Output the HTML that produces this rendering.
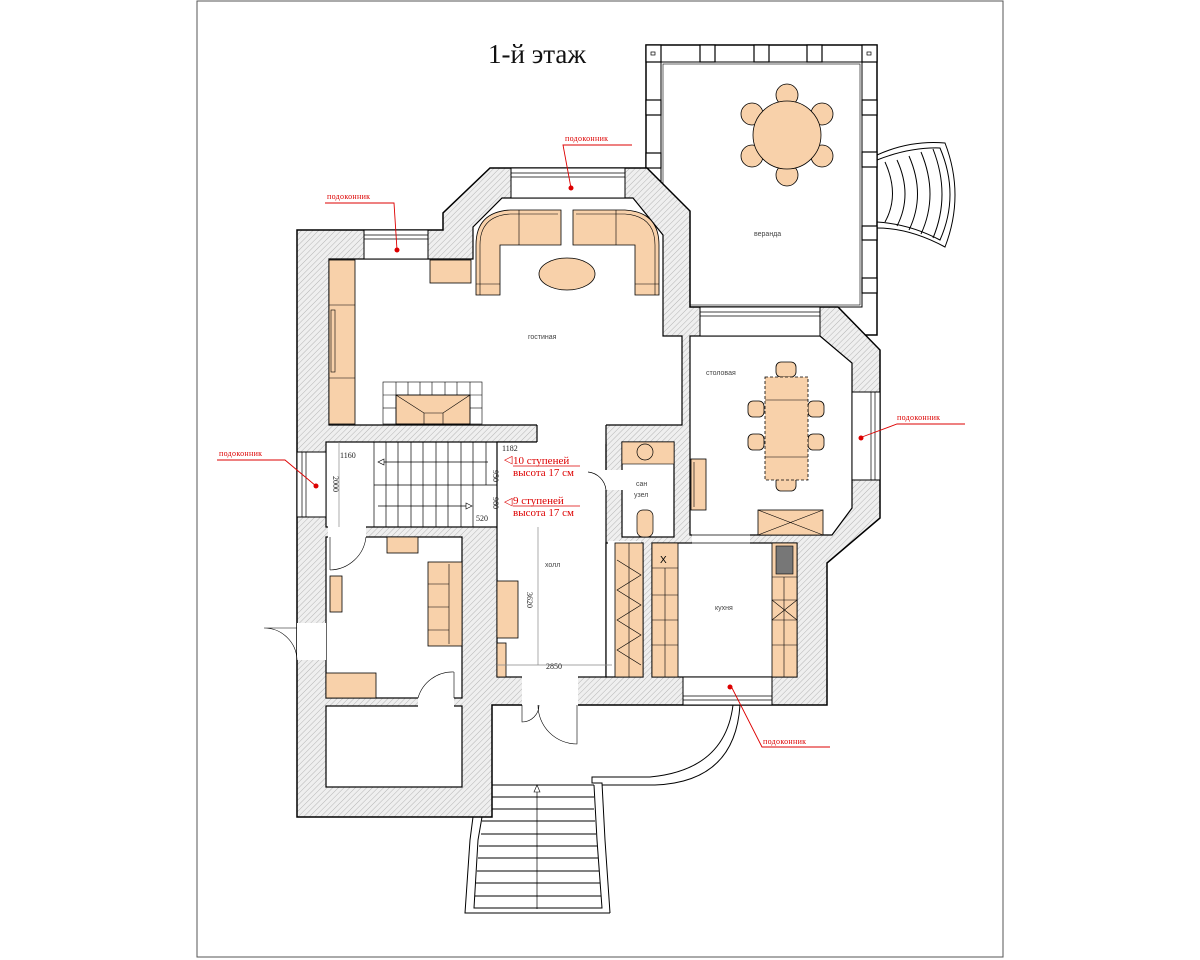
<!DOCTYPE html>
<html><head><meta charset="utf-8"><style>
html,body{margin:0;padding:0;background:#fff;}
svg{display:block;}
.r{font-family:"Liberation Serif",serif;fill:#d00;font-size:8px;letter-spacing:0.3px;}
.lb{font-family:"Liberation Sans",sans-serif;fill:#444;font-size:7px;}
.dm{font-family:"Liberation Serif",serif;fill:#222;font-size:8px;}
.rr{font-family:"Liberation Serif",serif;fill:#d00;font-size:11px;}
</style></head><body>
<svg width="1200" height="960" viewBox="0 0 1200 960" xmlns="http://www.w3.org/2000/svg">
<defs>
<pattern id="h" width="4" height="4" patternUnits="userSpaceOnUse" patternTransform="rotate(45)">
<rect width="4" height="4" fill="#efefef"/><line x1="0" y1="0" x2="0" y2="4" stroke="#b5b5b5" stroke-width="1"/></pattern>
</defs>
<rect x="197" y="1" width="806" height="956" fill="none" stroke="#555" stroke-width="1"/>
<text x="488" y="63" font-family="Liberation Serif,serif" font-size="27" fill="#111">1-й этаж</text>

<!-- veranda -->
<rect x="646" y="45" width="231" height="290" fill="#fff" stroke="#000" stroke-width="1.5"/>
<rect x="661" y="62" width="201" height="245" fill="#fff" stroke="#000" stroke-width="1"/>
<rect x="663" y="64" width="197" height="241" fill="none" stroke="#000" stroke-width="0.6"/>
<g fill="#fff" stroke="#000" stroke-width="1.2">
<rect x="646" y="45" width="15" height="17"/><rect x="700" y="45" width="15" height="17"/><rect x="754" y="45" width="15" height="17"/><rect x="807" y="45" width="15" height="17"/><rect x="862" y="45" width="15" height="17"/>
<rect x="646" y="100" width="15" height="15"/><rect x="646" y="153" width="15" height="15"/>
<rect x="862" y="100" width="15" height="15"/><rect x="862" y="152" width="15" height="15"/><rect x="862" y="226" width="15" height="14"/><rect x="862" y="278" width="15" height="15"/>
</g>
<rect x="651" y="52" width="4" height="3" fill="none" stroke="#000" stroke-width="0.7"/><rect x="867" y="52" width="4" height="3" fill="none" stroke="#000" stroke-width="0.7"/>
<!-- veranda steps -->
<g fill="none" stroke="#000" stroke-width="1">
<path d="M877 155 Q910 140 945 143 Q965 195 945 247 Q910 228 877 228"/>
<path d="M877 160 Q910 147 940 148 Q960 195 940 240 Q910 224 877 222"/>
<path d="M885 162 Q900 195 885 222"/><path d="M897 160 Q913 195 897 226"/><path d="M909 156 Q926 195 909 230"/><path d="M921 152 Q939 195 921 234"/><path d="M933 149 Q951 195 933 238"/>
</g>
<!-- round table -->
<g fill="#f8d1aa" stroke="#000" stroke-width="0.8">
<circle cx="787" cy="95" r="11"/><circle cx="787" cy="175" r="11"/><circle cx="752" cy="114" r="11"/><circle cx="822" cy="114" r="11"/><circle cx="752" cy="156" r="11"/><circle cx="822" cy="156" r="11"/>
<circle cx="787" cy="135" r="34"/>
</g>
<text class="lb" x="754" y="236">веранда</text>

<!-- main walls -->
<polygon points="297,230 443,230 443,213 490,168 647,168 690,211 690,307 838,307 880,350 880,518 827,563 827,705 492,705 492,817 297,817" fill="url(#h)" stroke="#000" stroke-width="1.5"/>

<!-- rooms (white) -->
<g fill="#fff" stroke="#000" stroke-width="1.2">
<polygon points="329,259 473,259 473,227 502,198 633,198 663,235 663,336 682,336 682,425 329,425"/>
<polygon points="690,336 820,336 852,363 852,508 832,535 690,535"/>
<rect x="326" y="442" width="211" height="85"/>
<rect x="497" y="442" width="109" height="235"/>
<rect x="537" y="424" width="69" height="20" stroke="none"/>
<rect x="606" y="543" width="37" height="134"/>
<rect x="652" y="543" width="145" height="134"/>
<rect x="326" y="537" width="136" height="161"/>
<rect x="326" y="706" width="136" height="81"/>
<rect x="622" y="442" width="52" height="95"/>
</g>
<!-- fixes: openings -->
<g fill="#fff" stroke="none">
<rect x="499" y="444" width="40" height="81"/>
<rect x="500" y="444" width="104" height="231"/>
<rect x="538" y="420" width="66" height="26"/>
<rect x="664" y="338" width="17" height="86"/>
<rect x="692" y="533" width="58" height="12"/>
<rect x="608" y="541" width="33" height="4"/>
<rect x="604" y="470" width="20" height="20"/>
<rect x="328" y="525" width="38" height="14"/>
<rect x="418" y="696" width="36" height="12"/>
<rect x="522" y="675" width="56" height="32"/>
</g>
<line x1="537" y1="425" x2="537" y2="442" stroke="#000" stroke-width="1.2"/>
<line x1="606" y1="425" x2="606" y2="470" stroke="#000" stroke-width="1.2"/>
<line x1="682" y1="336" x2="682" y2="424" stroke="#000" stroke-width="0.8"/>
<line x1="690" y1="336" x2="690" y2="424" stroke="#000" stroke-width="0.8"/>
<line x1="690" y1="535" x2="751" y2="535" stroke="#000" stroke-width="0.8"/><line x1="690" y1="543" x2="751" y2="543" stroke="#000" stroke-width="0.8"/>

<!-- windows -->
<g fill="#fff" stroke="#000" stroke-width="1">
<rect x="364" y="230" width="64" height="29"/>
<rect x="511" y="168" width="114" height="30"/>
<rect x="700" y="307" width="120" height="29"/>
<rect x="852" y="392" width="28" height="88"/>
<rect x="683" y="677" width="89" height="28"/>
<rect x="297" y="452" width="29" height="65"/>
<rect x="297" y="623" width="29" height="37" stroke="none"/>
</g>
<g stroke="#000" stroke-width="0.7">
<line x1="364" y1="235" x2="428" y2="235"/><line x1="364" y1="239" x2="428" y2="239"/>
<line x1="511" y1="173" x2="625" y2="173"/><line x1="511" y1="177" x2="625" y2="177"/>
<line x1="700" y1="312" x2="820" y2="312"/><line x1="700" y1="316" x2="820" y2="316"/>
<line x1="875" y1="392" x2="875" y2="480"/><line x1="871" y1="392" x2="871" y2="480"/>
<line x1="683" y1="700" x2="772" y2="700"/><line x1="683" y1="696" x2="772" y2="696"/>
<line x1="302" y1="452" x2="302" y2="517"/><line x1="306" y1="452" x2="306" y2="517"/>
</g>

<!-- living furniture -->
<g fill="#f8d1aa" stroke="#000" stroke-width="0.8">
<rect x="329" y="260" width="26" height="164"/>
<rect x="430" y="260" width="41" height="23"/>
<path d="M476 295 L476 245 Q476 212 510 210 L561 210 L561 245 L500 245 L500 295 Z"/>
<path d="M659 295 L659 245 Q659 212 625 210 L573 210 L573 245 L635 245 L635 295 Z"/>
<ellipse cx="567" cy="274" rx="28" ry="16"/>
<rect x="396" y="395" width="74" height="29"/>
</g>
<g fill="none" stroke="#000" stroke-width="0.6">
<line x1="329" y1="305" x2="355" y2="305"/><line x1="329" y1="378" x2="355" y2="378"/>
<rect x="331" y="310" width="4" height="62"/>
<path d="M480 295 L480 245 Q480 216 510 214 L558 214"/><path d="M655 295 L655 245 Q655 216 625 214 L576 214"/>
<line x1="476" y1="284" x2="500" y2="284"/><line x1="635" y1="284" x2="659" y2="284"/>
<line x1="519" y1="210" x2="519" y2="245"/><line x1="616" y1="210" x2="616" y2="245"/>
<rect x="383" y="382" width="99" height="42"/>
<line x1="383" y1="395" x2="482" y2="395"/><line x1="396" y1="382" x2="396" y2="424"/><line x1="470" y1="382" x2="470" y2="424"/>
<line x1="408" y1="382" x2="408" y2="395"/><line x1="420" y1="382" x2="420" y2="395"/><line x1="432" y1="382" x2="432" y2="395"/><line x1="445" y1="382" x2="445" y2="395"/><line x1="457" y1="382" x2="457" y2="395"/>
<line x1="383" y1="408" x2="396" y2="408"/><line x1="470" y1="408" x2="482" y2="408"/>
<polyline points="396,395 424,413 443,413 470,395"/><line x1="424" y1="413" x2="424" y2="424"/><line x1="443" y1="413" x2="443" y2="424"/>
</g>
<text class="lb" x="528" y="339">гостиная</text>

<!-- dining -->
<g fill="#f8d1aa" stroke="#000" stroke-width="0.8">
<rect x="776" y="362" width="20" height="15" rx="5"/><rect x="776" y="476" width="20" height="15" rx="5"/>
<rect x="748" y="401" width="16" height="16" rx="5"/><rect x="748" y="434" width="16" height="16" rx="5"/>
<rect x="808" y="401" width="16" height="16" rx="5"/><rect x="808" y="434" width="16" height="16" rx="5"/>
<rect x="765" y="377" width="43" height="103" stroke-dasharray="3,2"/>
<rect x="758" y="510" width="65" height="25"/>
<rect x="691" y="459" width="15" height="51"/>
</g>
<g stroke="#000" stroke-width="0.6" fill="none">
<line x1="765" y1="400" x2="808" y2="400"/><line x1="765" y1="457" x2="808" y2="457"/>
<line x1="758" y1="510" x2="823" y2="535"/><line x1="823" y1="510" x2="758" y2="535"/>
<line x1="694" y1="462" x2="694" y2="507"/>
</g>
<text class="lb" x="706" y="375">столовая</text>

<!-- bathroom -->
<rect x="622" y="442" width="52" height="22" fill="#f8d1aa" stroke="#000" stroke-width="0.6"/>
<circle cx="645" cy="452" r="8" fill="#f8d1aa" stroke="#000" stroke-width="0.7"/>
<rect x="637" y="510" width="16" height="27" rx="6" fill="#f8d1aa" stroke="#000" stroke-width="0.7"/>
<text class="lb" x="636" y="486">сан</text><text class="lb" x="634" y="497">узел</text>
<path d="M606 490 A20 20 0 0 0 588 472" fill="none" stroke="#000" stroke-width="0.7"/>

<!-- hall -->
<g fill="#f8d1aa" stroke="#000" stroke-width="0.8">
<rect x="497" y="581" width="21" height="57"/>
<rect x="497" y="643" width="9" height="34"/>
<rect x="615" y="543" width="28" height="134"/>
<rect x="652" y="543" width="26" height="134"/>
<rect x="772" y="543" width="25" height="134"/>
</g>
<g stroke="#000" stroke-width="0.6" fill="none">
<line x1="629" y1="543" x2="629" y2="677"/>
<polyline points="617,560 641,575 617,590 641,605 617,620 641,635 617,650 641,665"/>
<line x1="652" y1="568" x2="678" y2="568"/><line x1="665" y1="568" x2="665" y2="677"/>
<line x1="652" y1="595" x2="678" y2="595"/><line x1="652" y1="620" x2="678" y2="620"/><line x1="652" y1="645" x2="678" y2="645"/>
<line x1="772" y1="577" x2="797" y2="577"/><line x1="784" y1="577" x2="784" y2="677"/>
<rect x="776" y="546" width="17" height="28" fill="#777"/>
<line x1="772" y1="600" x2="797" y2="620"/><line x1="797" y1="600" x2="772" y2="620"/>
<line x1="772" y1="600" x2="797" y2="600"/><line x1="772" y1="620" x2="797" y2="620"/>
<line x1="772" y1="645" x2="797" y2="645"/>
</g>
<text x="660" y="563" font-family="Liberation Sans,sans-serif" font-size="10" fill="#000">X</text>
<text class="lb" x="545" y="567">холл</text>
<text class="lb" x="715" y="610">кухня</text>

<!-- stairs -->
<g stroke="#000" stroke-width="0.7" fill="none">
<line x1="374" y1="485" x2="497" y2="485"/><line x1="374" y1="442" x2="374" y2="527"/>
<line x1="386" y1="442" x2="386" y2="485"/><line x1="398" y1="442" x2="398" y2="485"/><line x1="411" y1="442" x2="411" y2="485"/><line x1="423" y1="442" x2="423" y2="485"/><line x1="436" y1="442" x2="436" y2="485"/><line x1="448" y1="442" x2="448" y2="485"/><line x1="461" y1="442" x2="461" y2="485"/><line x1="473" y1="442" x2="473" y2="485"/><line x1="486" y1="442" x2="486" y2="485"/>
<line x1="386" y1="485" x2="386" y2="527"/><line x1="398" y1="485" x2="398" y2="527"/><line x1="411" y1="485" x2="411" y2="527"/><line x1="423" y1="485" x2="423" y2="527"/><line x1="436" y1="485" x2="436" y2="527"/><line x1="448" y1="485" x2="448" y2="527"/><line x1="461" y1="485" x2="461" y2="527"/><line x1="473" y1="485" x2="473" y2="527"/>
<line x1="378" y1="462" x2="488" y2="462"/><line x1="378" y1="506" x2="472" y2="506"/>
<line x1="339" y1="442" x2="339" y2="527" stroke="#888"/><line x1="497" y1="442" x2="497" y2="527"/>
<line x1="538" y1="527" x2="538" y2="665" stroke="#888"/><line x1="497" y1="665" x2="612" y2="665" stroke="#888"/>
</g>
<polygon points="378,462 384,459 384,465" fill="#fff" stroke="#000" stroke-width="0.6"/>
<polygon points="472,506 466,503 466,509" fill="#fff" stroke="#000" stroke-width="0.6"/>
<text class="dm" x="340" y="458">1160</text><text class="dm" x="502" y="451">1182</text>
<text class="dm" transform="translate(493,470) rotate(90)">950</text>
<text class="dm" transform="translate(333,476) rotate(90)">2000</text>
<text class="dm" transform="translate(493,497) rotate(90)">960</text>
<text class="dm" x="476" y="521">520</text>
<text class="dm" transform="translate(527,592) rotate(90)">3620</text>
<text class="dm" x="546" y="669">2850</text>
<text class="rr" x="513" y="464">10 ступеней</text><text class="rr" x="513" y="476">высота 17 см</text>
<text class="rr" x="513" y="504">9 ступеней</text><text class="rr" x="513" y="516">высота 17 см</text>
<line x1="513" y1="466" x2="580" y2="466" stroke="#d00" stroke-width="0.8"/>
<line x1="513" y1="506" x2="580" y2="506" stroke="#d00" stroke-width="0.8"/>
<text class="rr" x="504" y="463" font-size="9">◁</text><text class="rr" x="504" y="505" font-size="9">◁</text>

<!-- bedroom furniture -->
<g fill="#f8d1aa" stroke="#000" stroke-width="0.8">
<rect x="387" y="537" width="31" height="16"/>
<rect x="428" y="562" width="34" height="84"/>
<rect x="330" y="576" width="12" height="36"/>
<rect x="326" y="673" width="50" height="25"/>
</g>
<g stroke="#000" stroke-width="0.6" fill="none">
<line x1="449" y1="564" x2="449" y2="644"/><line x1="428" y1="584" x2="449" y2="584"/><line x1="428" y1="607" x2="449" y2="607"/><line x1="428" y1="630" x2="449" y2="630"/>
<path d="M330 537 L330 570 M330 570 A37 37 0 0 0 366 537"/>
<path d="M454 698 L454 672 M418 698 A36 36 0 0 1 454 672"/>
<path d="M297 628 L264 628 M264 628 A33 33 0 0 1 297 660"/>
<path d="M522 705 L522 722 A17 17 0 0 0 539 705"/>
<path d="M577 705 L577 744 A39 39 0 0 1 538 705"/>
</g>

<!-- entrance stairs and landing -->
<g fill="none" stroke="#000" stroke-width="1">
<path d="M733 705 Q725 770 650 777 L592 777 L592 783 L602 783 L605 840 L610 913"/>
<path d="M740 705 Q735 782 655 785 L602 785"/>
<path d="M473 817 L470 840 L465 913 L610 913"/>
<path d="M482 817 L478 840 L474 908 L602 908 L597 840 L594 785"/>
<line x1="492" y1="785" x2="594" y2="785"/>
<line x1="492" y1="797" x2="594" y2="797"/><line x1="492" y1="809" x2="594" y2="809"/>
<line x1="482" y1="821" x2="595" y2="821"/><line x1="481" y1="834" x2="596" y2="834"/><line x1="479" y1="846" x2="597" y2="846"/><line x1="478" y1="858" x2="598" y2="858"/><line x1="477" y1="871" x2="599" y2="871"/><line x1="476" y1="883" x2="600" y2="883"/><line x1="475" y1="896" x2="601" y2="896"/>
<line x1="537" y1="788" x2="537" y2="909" stroke-width="0.7"/>
</g>
<polygon points="537,785 534,792 540,792" fill="#fff" stroke="#000" stroke-width="0.6"/>

<!-- red labels -->
<g stroke="#d00" stroke-width="0.9" fill="none">
<polyline points="632,145 563,145 571,188"/>
<polyline points="325,203 394,203 397,250"/>
<polyline points="217,460 285,460 316,486"/>
<polyline points="965,424 897,424 862,437"/>
<polyline points="830,747 762,747 731,686"/>
</g>
<g fill="#d00"><circle cx="571" cy="188" r="2.5"/><circle cx="397" cy="250" r="2.5"/><circle cx="316" cy="486" r="2.5"/><circle cx="861" cy="438" r="2.5"/><circle cx="730" cy="687" r="2.5"/></g>
<text class="r" x="565" y="141">подоконник</text>
<text class="r" x="327" y="199">подоконник</text>
<text class="r" x="219" y="456">подоконник</text>
<text class="r" x="897" y="420">подоконник</text>
<text class="r" x="763" y="744">подоконник</text>
</svg>
</body></html>
